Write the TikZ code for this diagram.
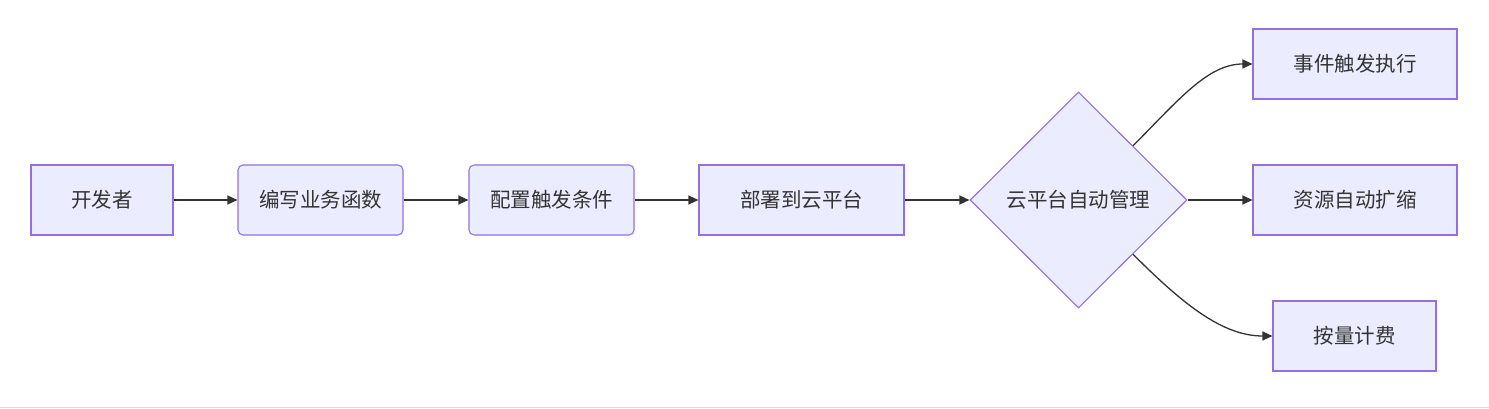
\documentclass[tikz,border=0pt]{standalone}
\usepackage{fontspec}
\setmainfont{Noto Sans CJK SC}
\usetikzlibrary{arrows.meta,shapes.geometric}
\definecolor{boxfill}{HTML}{ECECFF}
\definecolor{boxline}{HTML}{9370DB}
\definecolor{edgecol}{HTML}{333333}
\definecolor{txtcol}{HTML}{333333}
\definecolor{framecol}{HTML}{DDDDDD}
\tikzset{
  box/.style={draw=boxline, fill=boxfill, line width=1.1pt, minimum height=70pt,
    inner sep=0pt, text=txtcol, font=\fontsize{20.5}{24}\selectfont},
  rbox/.style={box, rounded corners=5pt},
  dec/.style={box, shape=diamond, minimum width=217pt, minimum height=216pt},
  arr/.style={draw=edgecol, line width=1.3pt, -{Triangle[length=10pt,width=9pt]}}
}
\begin{document}
\begin{tikzpicture}[x=1pt,y=-1pt]
\useasboundingbox (0,0) rectangle (1489,409);
\draw[framecol, line width=1.5pt] (0,407.5) -- (1489,407.5);
\node[box, minimum width=142pt] (n1) at (102,200) {开发者};
\node[rbox, minimum width=165pt] (n2) at (320.5,200) {编写业务函数};
\node[rbox, minimum width=165pt] (n3) at (551.5,200) {配置触发条件};
\node[box, minimum width=205pt] (n4) at (801.5,200) {部署到云平台};
\node[dec] (d) at (1078.5,200) {云平台自动管理};
\node[box, minimum width=204pt] (t1) at (1355,64) {事件触发执行};
\node[box, minimum width=204pt] (t2) at (1355,200) {资源自动扩缩};
\node[box, minimum width=163pt] (t3) at (1354.5,336) {按量计费};
\draw[arr] (n1.east) -- (n2.west);
\draw[arr] (n2.east) -- (n3.west);
\draw[arr] (n3.east) -- (n4.west);
\draw[arr] (n4.east) -- (d.west);
\draw[arr] (d.north east) .. controls +(45,-45) and +(-45,0) .. (t1.west);
\draw[arr] (d.east) -- (t2.west);
\draw[arr] (d.south east) .. controls +(50,50) and +(-50,0) .. (t3.west);
\end{tikzpicture}
\end{document}
